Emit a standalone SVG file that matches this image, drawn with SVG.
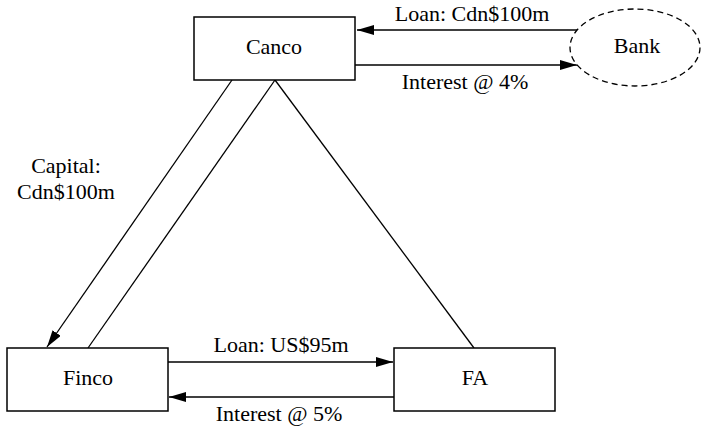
<svg xmlns="http://www.w3.org/2000/svg" width="702" height="426" viewBox="0 0 702 426">
<style>
.box{fill:#fff;stroke:#000;stroke-width:1.5}
.bank{fill:#fff;stroke:#000;stroke-width:1.3;stroke-dasharray:6 4}
.ln{fill:none;stroke:#000;stroke-width:1.3}
text{font-family:"Liberation Serif","Times New Roman",serif;font-size:22px;fill:#000;text-anchor:middle}
</style>
<defs>
<marker id="ah" markerUnits="userSpaceOnUse" markerWidth="18" markerHeight="10" refX="17" refY="5" orient="auto">
<path d="M0,0 L17,5 L0,10 z" fill="#000"/>
</marker>
</defs>
<g id="connectors">
<line class="ln" x1="577" y1="30" x2="357" y2="30" marker-end="url(#ah)"/>
<line class="ln" x1="355" y1="65" x2="577" y2="65" marker-end="url(#ah)"/>
<line class="ln" x1="232" y1="80" x2="47" y2="347" marker-end="url(#ah)"/>
<line class="ln" x1="88" y1="348" x2="275" y2="80"/>
<line class="ln" x1="275" y1="80" x2="474" y2="348"/>
<line class="ln" x1="168" y1="362" x2="393" y2="362" marker-end="url(#ah)"/>
<line class="ln" x1="394" y1="397" x2="169" y2="397" marker-end="url(#ah)"/>
<text x="472" y="21">Loan: Cdn$100m</text>
<text x="465" y="89">Interest @ 4%</text>
<text x="66" y="173">Capital:</text>
<text x="66" y="199">Cdn$100m</text>
<text x="281" y="352">Loan: US$95m</text>
<text x="279" y="421">Interest @ 5%</text>
</g>
<g id="canco">
<rect class="box" x="194" y="17" width="161" height="63"/>
<text x="274" y="54">Canco</text>
</g>
<g id="bank">
<ellipse class="bank" cx="635" cy="47.5" rx="65" ry="38.5"/>
<text x="637" y="53">Bank</text>
</g>
<g id="finco">
<rect class="box" x="7" y="348" width="161" height="63"/>
<text x="88" y="385">Finco</text>
</g>
<g id="fa">
<rect class="box" x="394" y="348" width="161" height="63"/>
<text x="475" y="385">FA</text>
</g>
</svg>
